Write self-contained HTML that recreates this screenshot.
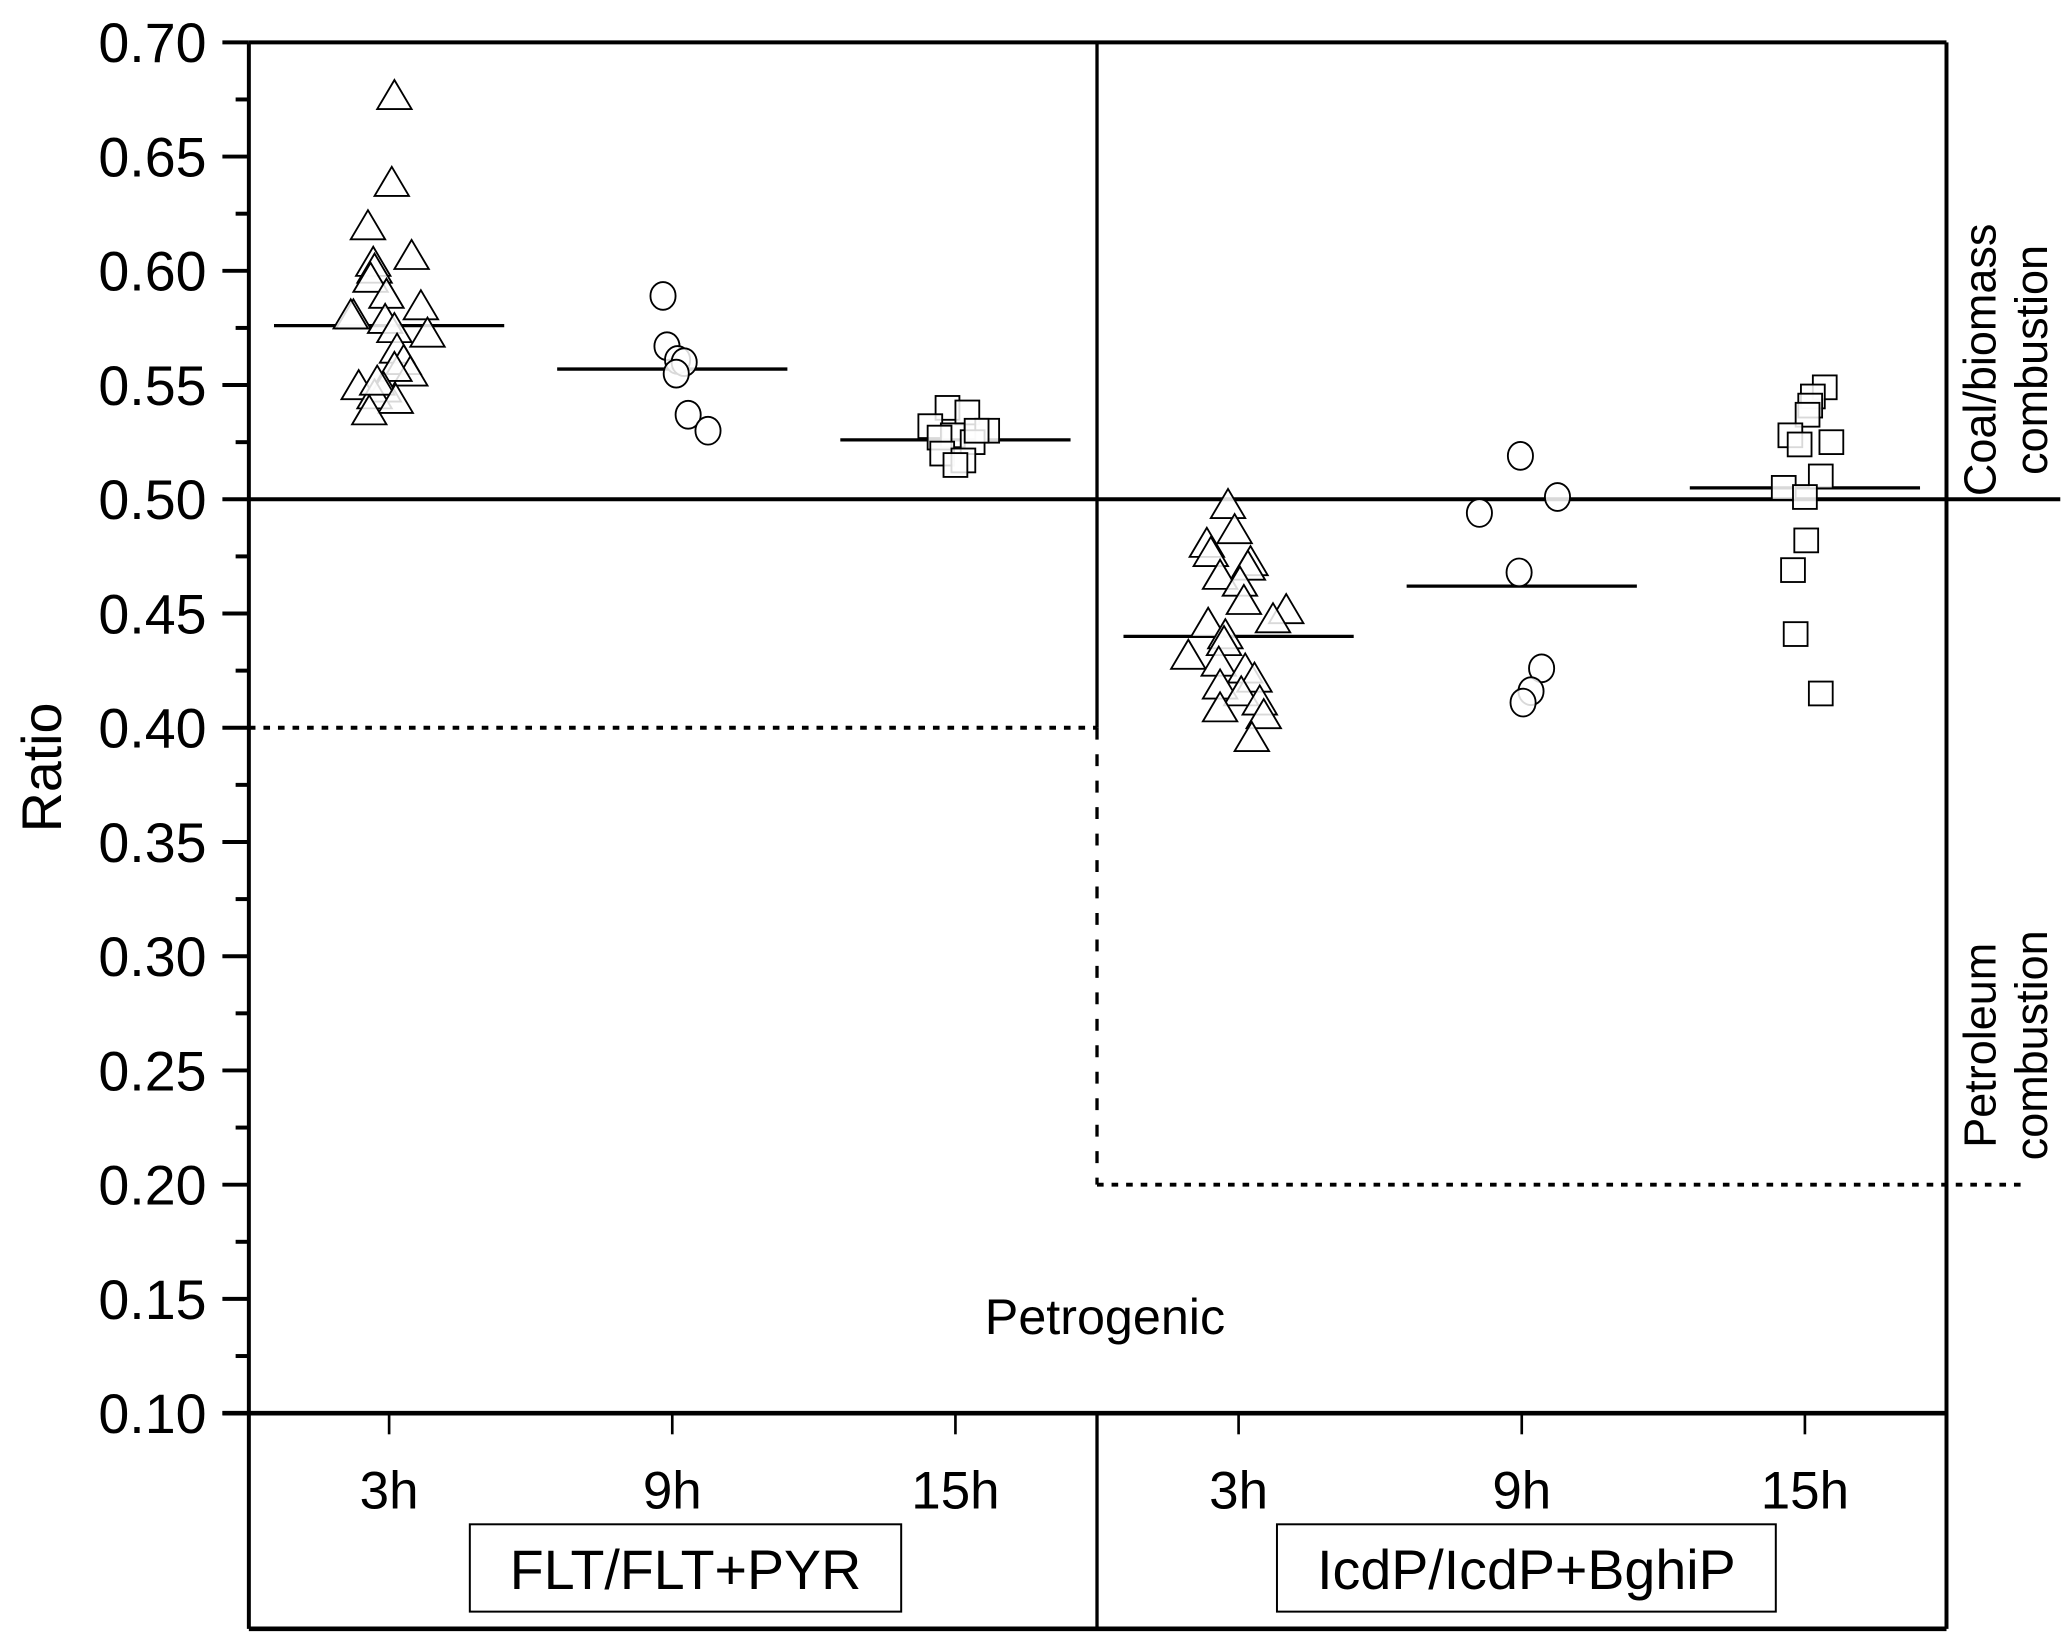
<!DOCTYPE html>
<html><head><meta charset="utf-8"><style>
html,body{margin:0;padding:0;background:#fff;}
svg{display:block;font-family:"Liberation Sans",Arial,sans-serif;}
</style></head><body>
<svg id="chart" width="2067" height="1650" viewBox="0 0 1562 1247" xmlns="http://www.w3.org/2000/svg">
<g id="frame"></g>
<g id="marks"></g>
<g id="labels"></g>
</svg>
<script>
const categories = ["3h","9h","15h","3h","9h","15h"];
const groups = ["FLT/FLT+PYR","IcdP/IcdP+BghiP"];
const yTicks = [0.10,0.15,0.20,0.25,0.30,0.35,0.40,0.45,0.50,0.55,0.60,0.65,0.70];
const yTickLabels = ["0.10","0.15","0.20","0.25","0.30","0.35","0.40","0.45","0.50","0.55","0.60","0.65","0.70"];
const means = [0.576,0.557,0.526,0.440,0.462,0.505];
const flt3hValues = [0.676,0.638,0.619,0.606,0.603,0.600,0.596,0.589,0.584,0.580,0.580,0.578,0.574,0.572,0.565,0.560,0.555,0.557,0.549,0.548,0.545,0.551,0.543,0.538];
const flt3hJitter = [4,2,-16,17,-12,-11,-14,-2,24,-27,-29,-3,4,29,6,11,16,4,-23,-4,-11,-9,5,-15];
const flt9hValues = [0.589,0.567,0.561,0.560,0.555,0.537,0.530];
const flt9hJitter = [-7,-4,4,9,3,12,27];
const flt15hValues = [0.540,0.538,0.532,0.530,0.528,0.527,0.525,0.520,0.517,0.515,0.530];
const flt15hJitter = [-6,9,-19,24,-2,-12,13,-10,6,0,16];
const icd3hValues = [0.497,0.486,0.480,0.476,0.472,0.470,0.466,0.463,0.455,0.451,0.447,0.445,0.440,0.437,0.431,0.428,0.425,0.421,0.418,0.415,0.411,0.408,0.405,0.395];
const icd3hJitter = [-8,-3,-24,-21,9,7,-14,1,4,36,26,-23,-10,-11,-38,-15,5,12,-14,2,16,-14,19,10];
const icd9hValues = [0.519,0.501,0.494,0.468,0.426,0.416,0.411];
const icd9hJitter = [-1,27,-32,-2,15,7,1];
const icd15hValues = [0.549,0.545,0.541,0.537,0.528,0.525,0.524,0.510,0.505,0.501,0.482,0.469,0.441,0.415];
const icd15hJitter = [15,6,4,2,-11,20,-4,12,-16,0,1,-9,-7,12];
const coalThreshold = 0.50, petroLeft = 0.40, petroRight = 0.20;

const NS="http://www.w3.org/2000/svg";
const X0=188, X1=1471, YTOP=32, YBOT=1068, BOXBOT=1231;
function yScale(v){return YBOT-(v-0.10)/(0.70-0.10)*(YBOT-YTOP);}
function xScale(i){return 294+i*214;}
function mk(parent,tag,attrs){const e=document.createElementNS(NS,tag);for(const k in attrs)e.setAttribute(k,attrs[k]);parent.appendChild(e);return e;}
const frame=document.getElementById('frame'), marks=document.getElementById('marks'), labels=document.getElementById('labels');

let e;
e=mk(frame,'line',{x1:X0,y1:YTOP,x2:X0,y2:BOXBOT,stroke:'#000','stroke-width':3});
 
e=mk(frame,'line',{x1:X1,y1:YTOP,x2:X1,y2:BOXBOT,stroke:'#000','stroke-width':3});
 
e=mk(frame,'line',{x1:X0,y1:YTOP,x2:X1,y2:YTOP,stroke:'#000','stroke-width':3});
 
e=mk(frame,'line',{x1:168,y1:YBOT,x2:X1,y2:YBOT,stroke:'#000','stroke-width':3.5});
 
e=mk(frame,'line',{x1:X0,y1:BOXBOT,x2:X1,y2:BOXBOT,stroke:'#000','stroke-width':3.5});
 
const xd=829;
e=mk(frame,'line',{x1:xd,y1:YTOP,x2:xd,y2:yScale(petroLeft),stroke:'#000','stroke-width':2.5});
 
e=mk(frame,'line',{x1:xd,y1:yScale(petroLeft),x2:xd,y2:yScale(petroRight),stroke:'#000','stroke-width':2.5,'stroke-dasharray':'9 11'});
 
e=mk(frame,'line',{x1:xd,y1:YBOT,x2:xd,y2:BOXBOT,stroke:'#000','stroke-width':2.5});
 
e=mk(frame,'line',{x1:X0,y1:yScale(coalThreshold),x2:1557,y2:yScale(coalThreshold),stroke:'#000','stroke-width':3});
 
e=mk(frame,'line',{x1:X0,y1:yScale(petroLeft),x2:xd,y2:yScale(petroLeft),stroke:'#000','stroke-width':3,'stroke-dasharray':'5 6'});
 
e=mk(frame,'line',{x1:xd,y1:yScale(petroRight),x2:1530,y2:yScale(petroRight),stroke:'#000','stroke-width':3,'stroke-dasharray':'5 6'});
 
yTicks.forEach((v,i)=>{
  const y=yScale(v);
  e=mk(frame,'line',{x1:168,y1:y,x2:X0,y2:y,stroke:'#000','stroke-width':3});
   
  e=mk(labels,'text',{x:156,y:y+15,'text-anchor':'end','font-size':42});
  e.textContent=yTickLabels[i];
   
  if(i<yTicks.length-1){
    const ym=yScale(v+0.025);
    e=mk(frame,'line',{x1:178,y1:ym,x2:X0,y2:ym,stroke:'#000','stroke-width':3});
     
  }
});
categories.forEach((c,i)=>{
  const x=xScale(i);
  e=mk(frame,'line',{x1:x,y1:YBOT,x2:x,y2:1084,stroke:'#000','stroke-width':2});
   
  e=mk(labels,'text',{x:x,y:1140,'text-anchor':'middle','font-size':40});
  e.textContent=c;
   
});
[[355,681],[965,1342]].forEach((b,i)=>{
  e=mk(frame,'rect',{x:b[0],y:1152,width:b[1]-b[0],height:66,fill:'none',stroke:'#000','stroke-width':1.5});
   
  e=mk(labels,'text',{x:(b[0]+b[1])/2,y:1201,'text-anchor':'middle','font-size':42});
  e.textContent=groups[i];
   
});
means.forEach((m,i)=>{
  const x=xScale(i);
  e=mk(marks,'line',{x1:x-87,y1:yScale(m),x2:x+87,y2:yScale(m),stroke:'#000','stroke-width':2.5});
   
});
function tri(vals,jit,ci){vals.forEach((v,k)=>{const x=xScale(ci)+jit[k],y=yScale(v);
  e=mk(marks,'polygon',{points:`${x},${y-13} ${x-13},${y+9} ${x+13},${y+9}`,fill:'#fff','fill-opacity':0.85,stroke:'#000','stroke-width':1.4});
   });}
function circ(vals,jit,ci){vals.forEach((v,k)=>{const x=xScale(ci)+jit[k],y=yScale(v);
  e=mk(marks,'ellipse',{cx:x,cy:y,rx:9.5,ry:10.5,fill:'#fff','fill-opacity':0.85,stroke:'#000','stroke-width':1.4});
   });}
function sq(vals,jit,ci){vals.forEach((v,k)=>{const x=xScale(ci)+jit[k],y=yScale(v);
  e=mk(marks,'rect',{x:x-9,y:y-9,width:18,height:18,fill:'#fff','fill-opacity':0.85,stroke:'#000','stroke-width':1.4});
   });}
tri(flt3hValues,flt3hJitter,0); circ(flt9hValues,flt9hJitter,1); sq(flt15hValues,flt15hJitter,2);
tri(icd3hValues,icd3hJitter,3); circ(icd9hValues,icd9hJitter,4); sq(icd15hValues,icd15hJitter,5);
e=mk(labels,'text',{x:0,y:0,'text-anchor':'middle','font-size':42,transform:'translate(46,580) rotate(-90)'});
e.textContent='Ratio';  
e=mk(labels,'text',{x:835,y:1008,'text-anchor':'middle','font-size':38});
e.textContent='Petrogenic';  
[['Coal/biomass','combustion',272,'coal-biomass-label'],['Petroleum','combustion',790,'petroleum-label']].forEach(t=>{
  e=mk(labels,'text',{x:0,y:0,'text-anchor':'middle','font-size':34,transform:`translate(1508,${t[2]}) rotate(-90)`});
  e.textContent=t[0];  
  e=mk(labels,'text',{x:0,y:0,'text-anchor':'middle','font-size':34,transform:`translate(1547,${t[2]}) rotate(-90)`});
  e.textContent=t[1];  
});
</script>
</body></html>
